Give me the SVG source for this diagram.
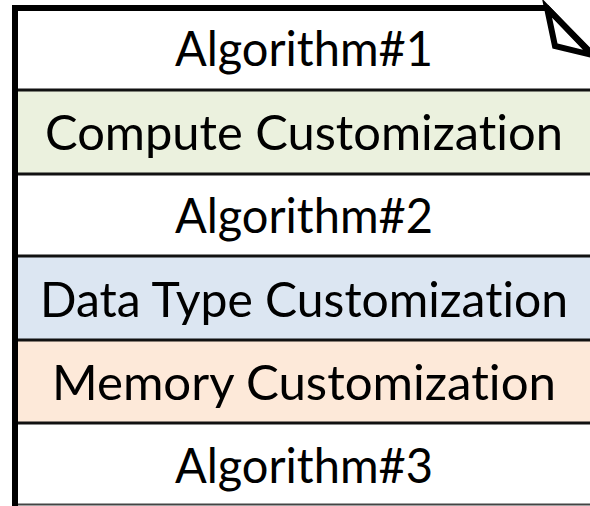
<svg xmlns="http://www.w3.org/2000/svg" width="590" height="506" viewBox="0 0 590 506">
<style>
.row{stroke:none}
.sep{stroke:#111;stroke-width:3;fill:none}
.t{font-family:"Lato","Liberation Sans",sans-serif;font-size:48px;fill:#000;text-anchor:middle;font-variant-ligatures:none;font-feature-settings:"liga" 0,"clig" 0}
.outline{stroke:#000;stroke-width:6;fill:none;stroke-linejoin:miter}
</style>
<rect x="0" y="0" width="590" height="506" fill="#fff"/>
<g id="row1"><rect class="row" x="15" y="8" width="575" height="82" fill="#ffffff"/><text class="t" x="304" y="66" textLength="258" lengthAdjust="spacingAndGlyphs">Algorithm#1</text></g>
<g id="row2"><rect class="row" x="15" y="90" width="575" height="84" fill="#EBF1DE"/><text class="t" x="304" y="150" textLength="518" lengthAdjust="spacingAndGlyphs">Compute Customization</text></g>
<g id="row3"><rect class="row" x="15" y="174" width="575" height="82" fill="#ffffff"/><text class="t" x="304" y="233" textLength="258" lengthAdjust="spacingAndGlyphs">Algorithm#2</text></g>
<g id="row4"><rect class="row" x="15" y="256" width="575" height="84" fill="#DCE6F2"/><text class="t" x="304" y="317" textLength="528" lengthAdjust="spacingAndGlyphs">Data Type Customization</text></g>
<g id="row5"><rect class="row" x="15" y="340" width="575" height="83" fill="#FDE9D9"/><text class="t" x="304" y="400" textLength="504" lengthAdjust="spacingAndGlyphs">Memory Customization</text></g>
<g id="row6"><rect class="row" x="15" y="423" width="575" height="81" fill="#ffffff"/><text class="t" x="304" y="483" textLength="258" lengthAdjust="spacingAndGlyphs">Algorithm#3</text></g>
<g id="separators">
<line class="sep" x1="15" y1="90" x2="590" y2="90"/>
<line class="sep" x1="15" y1="174" x2="590" y2="174"/>
<line class="sep" x1="15" y1="256" x2="590" y2="256"/>
<line class="sep" x1="15" y1="340" x2="590" y2="340"/>
<line class="sep" x1="15" y1="423" x2="590" y2="423"/>
<line x1="15" y1="504.5" x2="590" y2="504.5" stroke="#444" stroke-width="2"/>
</g>
<g id="document">
<path class="outline" d="M15,506 L15,8 L547,8 L600,62"/>
<polygon class="outline" points="547,8 555,46 592,55" fill="#fff"/>
</g>
</svg>
